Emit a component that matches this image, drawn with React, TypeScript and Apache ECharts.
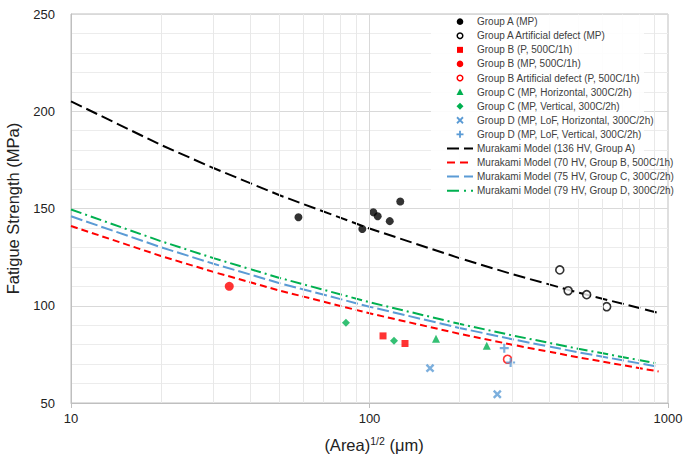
import React, { useEffect, useRef } from "react";
import * as echarts from "echarts";

// ---- data ----
const modelX = [10, 20, 30, 50, 100, 200, 300, 500, 930];
const modelA136 = [205.1, 182.7, 170.8, 156.8, 139.7, 124.5, 116.3, 106.8, 96.3];
const modelB70 = [141.0, 125.6, 117.4, 107.8, 96.1, 85.6, 80.0, 73.5, 66.2];
const modelC75 = [146.0, 130.1, 121.6, 111.6, 99.5, 88.6, 82.8, 76.1, 68.6];
const modelD79 = [149.5, 133.2, 124.5, 114.3, 101.8, 90.7, 84.8, 77.9, 70.2];

const aMpX = [57.8, 94.6, 103, 106.5, 116.9, 126.8];
const aMpY = [145.5, 139.5, 148.1, 146.0, 143.5, 153.6];
const aAdX = [434, 463, 534, 623];
const aAdY = [118.4, 107.7, 105.7, 99.5];
const bPX = [111, 131.5];
const bPY = [84.5, 80.6];
const bMpX = [33.9];
const bMpY = [110];
const bAdX = [290];
const bAdY = [72.5];
const cHX = [167, 247];
const cHY = [83, 79.4];
const cVX = [83.4, 120.8];
const cVY = [91.2, 82.0];
const dHX = [159.5, 268];
const dHY = [67.9, 54.5];
const dVX = [282.8, 297];
const dVY = [78.2, 70.8];

const xMinorGrid = [20, 30, 40, 50, 60, 70, 80, 90, 200, 300, 400, 500, 600, 700, 800, 900];
const xMajorGrid = [100];

const names = [
  "Group A (MP)",
  "Group A Artificial defect (MP)",
  "Group B (P, 500C/1h)",
  "Group B (MP, 500C/1h)",
  "Group B Artificial defect (P, 500C/1h)",
  "Group C (MP, Horizontal, 300C/2h)",
  "Group C (MP, Vertical, 300C/2h)",
  "Group D (MP, LoF, Horizontal, 300C/2h)",
  "Group D (MP, LoF, Vertical, 300C/2h)",
  "Murakami Model (136 HV, Group A)",
  "Murakami Model (70 HV, Group B, 500C/1h)",
  "Murakami Model (75 HV, Group C, 300C/2h)",
  "Murakami Model (79 HV, Group D, 300C/2h)",
];

const zip = (xs: number[], ys: number[]) => xs.map((x, i) => [x, ys[i]]);

const PLUS = "path://M3.8,0 L6.2,0 L6.2,3.8 L10,3.8 L10,6.2 L6.2,6.2 L6.2,10 L3.8,10 L3.8,6.2 L0,6.2 L0,3.8 L3.8,3.8 Z";

const RED = "#ff0000";
const GREEN = "#00b050";
const BLUE = "#5b9bd5";
const FONT = "Liberation Sans, Arial, sans-serif";

function legendGraphics(): any[] {
  const els: any[] = [];
  const sx = 460;
  const tx = 477;
  const y0 = 21.7;
  const dy = 14.08;
  els.push({
    type: "rect",
    silent: true,
    z: 50,
    shape: { x: 431, y: 15, width: 213, height: 184 },
    style: { fill: "rgba(255,255,255,0.88)" },
  });
  const line = (x1: number, y1: number, x2: number, y2: number, stroke: string) => ({
    type: "line",
    z: 52,
    silent: true,
    shape: { x1, y1, x2, y2 },
    style: { stroke, lineWidth: 1.8 },
  });
  names.forEach((n, i) => {
    const y = y0 + i * dy;
    els.push({
      type: "text",
      z: 52,
      silent: true,
      x: tx,
      y,
      style: { text: n, fill: "#404040", fontSize: 10, fontFamily: FONT, verticalAlign: "middle", align: "left" },
    });
    let sym: any = null;
    switch (i) {
      case 0:
        sym = { type: "circle", shape: { cx: sx, cy: y, r: 3.3 }, style: { fill: "#000" } };
        break;
      case 1:
        sym = { type: "circle", shape: { cx: sx, cy: y, r: 2.8 }, style: { fill: "#fff", stroke: "#000", lineWidth: 1.5 } };
        break;
      case 2:
        sym = { type: "rect", shape: { x: sx - 3, y: y - 3, width: 6, height: 6 }, style: { fill: RED } };
        break;
      case 3:
        sym = { type: "circle", shape: { cx: sx, cy: y, r: 3.3 }, style: { fill: RED } };
        break;
      case 4:
        sym = { type: "circle", shape: { cx: sx, cy: y, r: 2.8 }, style: { fill: "#fff", stroke: RED, lineWidth: 1.5 } };
        break;
      case 5:
        sym = { type: "polygon", shape: { points: [[sx, y - 3.5], [sx + 3.5, y + 3], [sx - 3.5, y + 3]] }, style: { fill: GREEN } };
        break;
      case 6:
        sym = { type: "polygon", shape: { points: [[sx, y - 3.5], [sx + 3.5, y], [sx, y + 3.5], [sx - 3.5, y]] }, style: { fill: GREEN } };
        break;
      case 7:
        els.push(line(sx - 3, y - 3, sx + 3, y + 3, BLUE));
        els.push(line(sx - 3, y + 3, sx + 3, y - 3, BLUE));
        break;
      case 8:
        els.push(line(sx - 3.5, y, sx + 3.5, y, BLUE));
        els.push(line(sx, y - 3.5, sx, y + 3.5, BLUE));
        break;
      default: {
        const styles: any = {
          9: { stroke: "#000", lineDash: [12, 5] },
          10: { stroke: RED, lineDash: [8, 5] },
          11: { stroke: BLUE, lineDash: [12, 5] },
          12: { stroke: GREEN, lineDash: [12, 5, 2, 5] },
        };
        sym = {
          type: "line",
          shape: { x1: 447, y1: y, x2: 473, y2: y },
          style: { ...styles[i], lineWidth: 2 },
        };
      }
    }
    if (sym) {
      sym.z = 52;
      sym.silent = true;
      els.push(sym);
    }
  });
  return els;
}

export default function App() {
  const ref = useRef<HTMLDivElement>(null);
  useEffect(() => {
    if (!ref.current) return;
    const chart = echarts.init(ref.current, null, { renderer: "svg" });
    const scatter = (name: string, data: number[][], extra: any) => ({
      name,
      type: "scatter",
      data,
      z: 4,
      ...extra,
    });
    const model = (name: string, ys: number[], color: string, dash: number[]) => ({
      name,
      type: "line",
      data: zip(modelX, ys),
      showSymbol: false,
      symbol: "none",
      smooth: false,
      z: 3,
      lineStyle: { color, width: 2, type: dash },
      itemStyle: { color },
    });
    chart.setOption({
      animation: false,
      textStyle: { fontFamily: FONT },
      grid: {
        left: 71,
        right: 21,
        top: 14,
        bottom: 52,
        containLabel: false,
        outerBoundsMode: "none",
        show: true,
        borderColor: "#bfbfbf",
        borderWidth: 1,
      },
      graphic: legendGraphics(),
      xAxis: {
        type: "log",
        logBase: 10,
        min: 10,
        max: 1000,
        axisLine: { show: true, lineStyle: { color: "#bfbfbf" } },
        axisTick: { show: true, length: 5, lineStyle: { color: "#bfbfbf" } },
        axisLabel: { fontSize: 13, color: "#222", margin: 9, formatter: (v: number) => String(Math.round(v)) },
        splitLine: { show: false },
        name: "(Area){sup|1/2} (μm)",
        nameLocation: "middle",
        nameGap: 32,
        nameTextStyle: {
          fontSize: 16.5,
          color: "#222",
          padding: [0, 0, 0, 9],
          rich: { sup: { fontSize: 10.5, verticalAlign: "top", padding: [0, 0, 8, 0], color: "#222" } },
        },
      },
      yAxis: {
        type: "value",
        min: 50,
        max: 250,
        interval: 50,
        axisLine: { show: true, lineStyle: { color: "#bfbfbf" } },
        axisTick: { show: false },
        axisLabel: { fontSize: 13, color: "#222", margin: 16 },
        splitLine: { show: true, lineStyle: { color: "#d9d9d9", width: 1 } },
        minorTick: { show: false, splitNumber: 5 },
        minorSplitLine: { show: true, lineStyle: { color: "#ececec", width: 1 } },
        name: "Fatigue Strength (MPa)",
        nameLocation: "middle",
        nameGap: 50,
        nameTextStyle: { fontSize: 16.5, color: "#222" },
      },
      series: [
        {
          name: "xgrid",
          type: "line",
          data: [],
          z: 1,
          silent: true,
          markLine: {
            silent: true,
            symbol: "none",
            label: { show: false },
            animation: false,
            data: [
              ...xMinorGrid.map((v) => ({ xAxis: v, lineStyle: { color: "#e8e8e8", width: 1, type: "solid" } })),
              ...xMajorGrid.map((v) => ({ xAxis: v, lineStyle: { color: "#d9d9d9", width: 1, type: "solid" } })),
            ],
          },
        },
        scatter(names[0], zip(aMpX, aMpY), { symbol: "circle", symbolSize: 8, itemStyle: { color: "#000" } }),
        scatter(names[1], zip(aAdX, aAdY), {
          symbol: "circle",
          symbolSize: 8,
          itemStyle: { color: "#fff", borderColor: "#000", borderWidth: 1.6 },
        }),
        scatter(names[2], zip(bPX, bPY), { symbol: "rect", symbolSize: 7, itemStyle: { color: RED } }),
        scatter(names[3], zip(bMpX, bMpY), { symbol: "circle", symbolSize: 9, itemStyle: { color: RED } }),
        scatter(names[4], zip(bAdX, bAdY), {
          symbol: "circle",
          symbolSize: 8,
          itemStyle: { color: "#fff", borderColor: RED, borderWidth: 1.6 },
        }),
        scatter(names[5], zip(cHX, cHY), { symbol: "triangle", symbolSize: 8, itemStyle: { color: GREEN } }),
        scatter(names[6], zip(cVX, cVY), { symbol: "diamond", symbolSize: 8, itemStyle: { color: GREEN } }),
        scatter(names[7], zip(dHX, dHY), {
          symbol: PLUS,
          symbolSize: 10,
          symbolRotate: 45,
          itemStyle: { color: BLUE },
        }),
        scatter(names[8], zip(dVX, dVY), { symbol: PLUS, symbolSize: 9, itemStyle: { color: BLUE } }),
        model(names[9], modelA136, "#000", [12, 5]),
        model(names[10], modelB70, RED, [7, 4]),
        model(names[11], modelC75, BLUE, [12, 4]),
        model(names[12], modelD79, GREEN, [11, 4, 2, 4]),
      ],
    });
    return () => chart.dispose();
  }, []);
  return <div ref={ref} style={{ width: 689, height: 455, position: "absolute", left: 0, top: 0 }} />;
}
